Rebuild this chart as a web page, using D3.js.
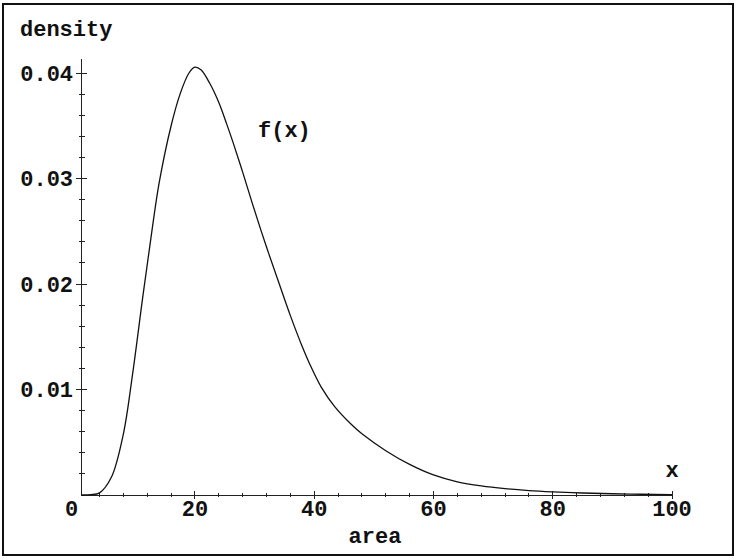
<!doctype html>
<html>
	<head>
		<title>density f(x)</title>
		<script src="https://d3js.org/d3.v7.min.js"></script>
		<style>
		html, body { margin: 0; padding: 0; background: #fff; }
		svg { display: block; }
		text { font-family: "Liberation Mono", "Courier New", monospace; font-weight: bold; font-size: 22px; fill: #111; }
		</style>
	</head>
	<body>
		<svg id="chart" width="737" height="559"></svg>
		<script>
		// values
		var areaX = [1, 2.5, 4, 6, 8, 9.5, 11.3, 12.7, 14, 16, 17.5, 19, 20, 21, 22.5, 24, 25.3, 26.4, 28, 29.75,
			32, 34.2, 36, 37.9, 39.5, 41.2, 43.4, 46.2, 48, 52, 56, 60, 64, 68, 72, 76, 80, 85, 90, 95, 100];
		var densityY = [0, 0.00003, 0.0002, 0.0017, 0.0058, 0.0113, 0.0190, 0.0247, 0.0296, 0.0350, 0.0380, 0.0400, 0.04055, 0.0403, 0.0390, 0.0372, 0.0352, 0.0334, 0.0306, 0.0274,
			0.0235, 0.0199, 0.0170, 0.0142, 0.0121, 0.0102, 0.0084, 0.0067, 0.0058, 0.0042, 0.0029, 0.0019, 0.00125, 0.00086, 0.0006, 0.00042, 0.0003, 0.00019, 0.00012, 0.00007, 0.00004];

		var xMajor = [20, 40, 60, 80, 100];
		var xMinor = [4, 8, 12, 16, 24, 28, 32, 36, 44, 48, 52, 56, 64, 68, 72, 76, 84, 88, 92, 96];
		var yMajor = [0.01, 0.02, 0.03, 0.04];
		var yMinor = d3.range(1, 21).map(function(i) { return i * 0.002; }).filter(function(v) { return Math.round(v * 1000) % 10 !== 0; });

		var xStart = 0.9, yTop = 0.0413;

		var svg = d3.select("#chart");

		var x = d3.scaleLinear().domain([0, 100]).range([75.7, 672]);
		var y = d3.scaleLinear().domain([0, 0.04]).range([495, 73]);

		// outer frame
		svg.append("rect")
			.attr("x", 3).attr("y", 4).attr("width", 730).attr("height", 551)
			.attr("fill", "none").attr("stroke", "#111").attr("stroke-width", 2);

		var axes = svg.append("g").attr("stroke", "#222").attr("stroke-width", 1).attr("shape-rendering", "crispEdges");

		// axis lines
		axes.append("line")
			.attr("x1", x(xStart)).attr("x2", x(100)).attr("y1", y(0)).attr("y2", y(0));
		axes.append("line")
			.attr("x1", x(xStart)).attr("x2", x(xStart)).attr("y1", y(0)).attr("y2", y(yTop));

		// x ticks
		axes.selectAll(".xmaj").data(xMajor).enter().append("line")
			.attr("x1", function(d) { return x(d); }).attr("x2", function(d) { return x(d); })
			.attr("y1", y(0) - 4).attr("y2", y(0) + 4);
		axes.selectAll(".xmin").data(xMinor).enter().append("line")
			.attr("x1", function(d) { return x(d); }).attr("x2", function(d) { return x(d); })
			.attr("y1", y(0) - 2).attr("y2", y(0) + 2);

		// y ticks
		axes.selectAll(".ymaj").data(yMajor).enter().append("line")
			.attr("x1", x(xStart) - 5).attr("x2", x(xStart) + 6)
			.attr("y1", function(d) { return y(d); }).attr("y2", function(d) { return y(d); });
		axes.selectAll(".ymin").data(yMinor).enter().append("line")
			.attr("x1", x(xStart) - 2).attr("x2", x(xStart) + 4)
			.attr("y1", function(d) { return y(d); }).attr("y2", function(d) { return y(d); });

		// tick labels
		svg.selectAll(".xlab").data([0].concat(xMajor)).enter().append("text")
			.attr("x", function(d) { return d === 0 ? x(d) - 4 : x(d); })
			.attr("y", y(0) + 21)
			.attr("text-anchor", "middle")
			.text(function(d) { return d; });

		svg.selectAll(".ylab").data(yMajor).enter().append("text")
			.attr("x", x(xStart) - 8)
			.attr("y", function(d) { return y(d); })
			.attr("dy", "0.35em")
			.attr("text-anchor", "end")
			.text(function(d) { return d.toFixed(2); });

		// curve
		var line = d3.line()
			.x(function(d, i) { return x(areaX[i]); })
			.y(function(d) { return y(d); })
			.curve(d3.curveCatmullRom.alpha(0.5));

		svg.append("path")
			.datum(densityY)
			.attr("fill", "none")
			.attr("stroke", "#111")
			.attr("stroke-width", 1.3)
			.attr("d", line);

		// labels
		svg.append("text").attr("x", 20).attr("y", 36).text("density");
		svg.append("text").attr("x", 258).attr("y", 137).text("f(x)");
		svg.append("text").attr("x", x(100)).attr("y", 477).attr("text-anchor", "middle").text("x");
		svg.append("text").attr("x", 375).attr("y", 543).attr("text-anchor", "middle").text("area");
		</script>
	</body>
</html>
